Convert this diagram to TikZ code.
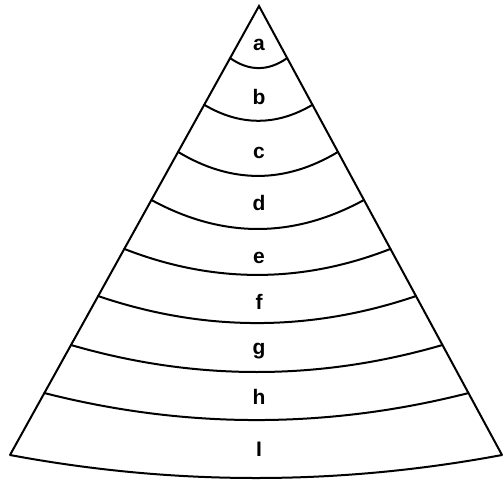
\documentclass[tikz,border=0pt]{standalone}
\usepackage{fontspec}
\setmainfont{Liberation Sans}
\usetikzlibrary{calc}

\begin{document}
\begin{tikzpicture}[x=1pt, y=-1pt, line width=2pt,
    band/.style={draw, line cap=round},
    bandlabel/.style={anchor=base, inner sep=0pt, font=\bfseries\fontsize{21}{23}\selectfont}]
  \useasboundingbox (0,0) rectangle (504,483);
  \coordinate (top) at (259,6);
  \coordinate (lc) at (10,455);
  \coordinate (rc) at (502,455);
  % the two sides
  \draw[line join=miter] (lc) -- (top) -- (rc);
  % band boundaries: position along the sides / sag in the middle
  \foreach \t/\s in {0.116/10, 0.220/16, 0.325/24, 0.432/29, 0.541/26, 0.646/27, 0.755/27, 0.862/27, 1/23}{
    \coordinate (l) at ($(top)!\t!(lc)$);
    \coordinate (r) at ($(top)!\t!(rc)$);
    \coordinate (p) at ($(l)!0.5!(r)+(0,{2*\s})$);
    \draw[band] (l) .. controls ($(l)!2/3!(p)$) and ($(r)!2/3!(p)$) .. (r);
  }
  % labels
  \foreach \name/\txt/\y in {a/a/50, b/b/104, c/c/158, d/d/210, e/e/263, f/f/309, g/g/354, h/h/404, i/I/456}
    \node[bandlabel] (lbl-\name) at (259,\y) {\txt};
\end{tikzpicture}
\end{document}
